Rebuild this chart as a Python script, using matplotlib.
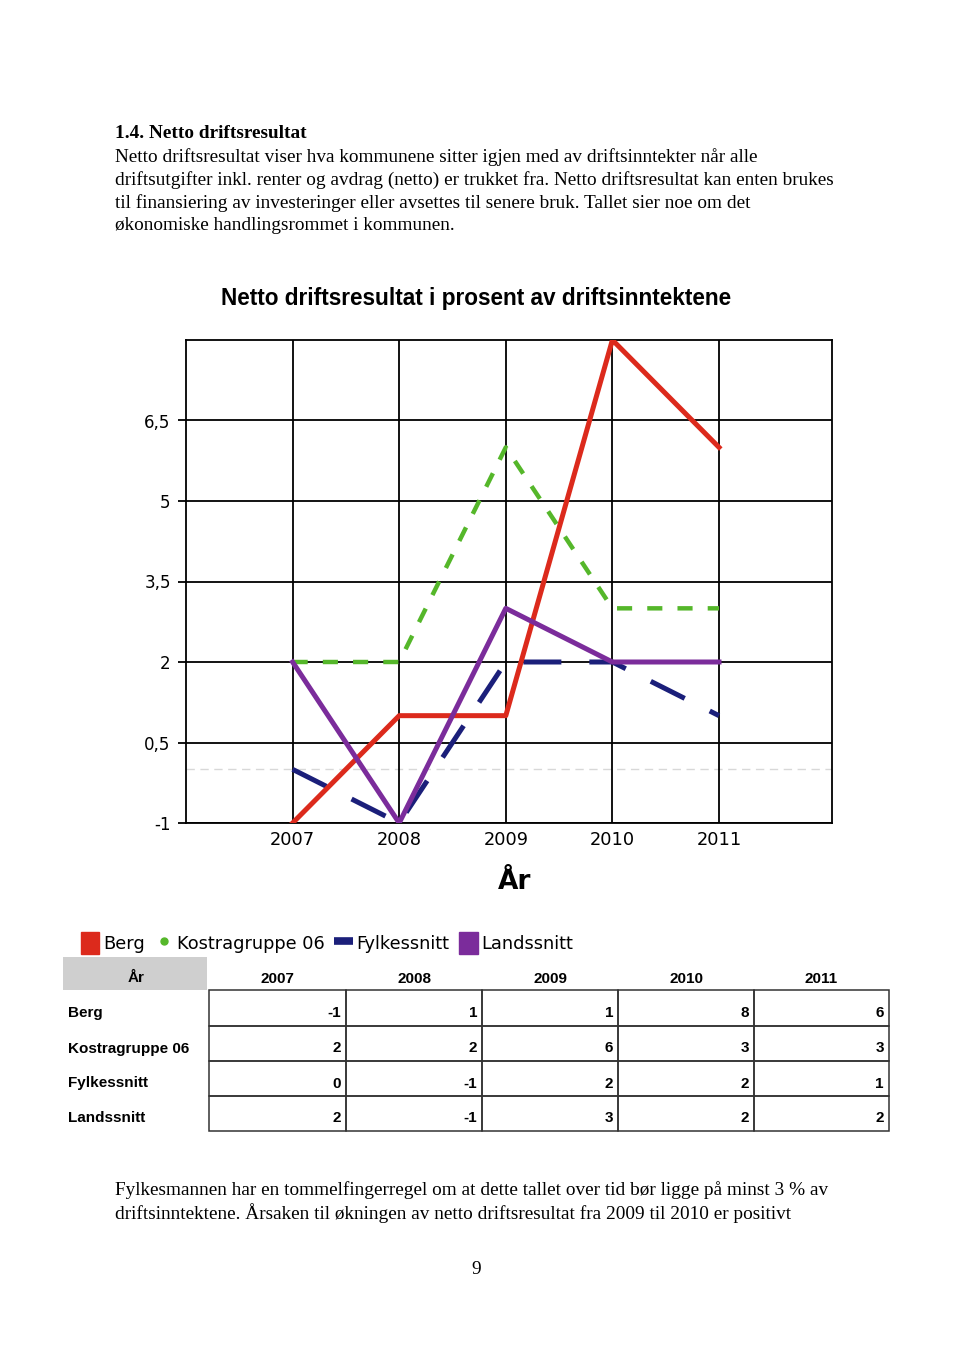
import matplotlib
matplotlib.use("Agg")
import matplotlib.pyplot as plt
from matplotlib.patches import Rectangle, Patch
from matplotlib.lines import Line2D

# ---- data ----
years = [2007, 2008, 2009, 2010, 2011]
berg = [-1, 1, 1, 8, 6]
kostra = [2, 2, 6, 3, 3]
fylke = [0, -1, 2, 2, 1]
lands = [2, -1, 3, 2, 2]
series_names = ["Berg", "Kostragruppe 06", "Fylkessnitt", "Landssnitt"]
yticks = [-1, 0.5, 2, 3.5, 5, 6.5]
ytick_labels = ["-1", "0,5", "2", "3,5", "5", "6,5"]

W, H = 960, 1357
fig = plt.figure(figsize=(W / 100, H / 100), dpi=100)
fig.patch.set_facecolor("white")

def fx(x):
    return x / W

def fy(y):
    return 1 - y / H

serif = "Liberation Serif"
sans = "Liberation Sans"
body = 13.85

# ---- page text ----
top_lines = [
    "Netto driftsresultat viser hva kommunene sitter igjen med av driftsinntekter når alle",
    "driftsutgifter inkl. renter og avdrag (netto) er trukket fra. Netto driftsresultat kan enten brukes",
    "til finansiering av investeringer eller avsettes til senere bruk. Tallet sier noe om det",
    "økonomiske handlingsrommet i kommunen.",
]
fig.text(fx(115), fy(134), "1.4. Netto driftsresultat", family=serif, weight="bold",
         fontsize=body, va="center", ha="left")
for i, t in enumerate(top_lines):
    fig.text(fx(115), fy(157 + i * 22.8), t, family=serif, fontsize=body, va="center", ha="left")

bottom_lines = [
    "Fylkesmannen har en tommelfingerregel om at dette tallet over tid bør ligge på minst 3 % av",
    "driftsinntektene. Årsaken til økningen av netto driftsresultat fra 2009 til 2010 er positivt",
]
for i, t in enumerate(bottom_lines):
    fig.text(fx(115), fy(1190 + i * 23), t, family=serif, fontsize=body, va="center", ha="left")
fig.text(fx(476), fy(1270), "9", family=serif, fontsize=body, va="center", ha="center")

# ---- chart ----
fig.text(fx(476), fy(299), "Netto driftsresultat i prosent av driftsinntektene",
         family=sans, weight="bold", fontsize=16.3, ha="center", va="center")

ax = fig.add_axes([fx(186), fy(823), fx(832) - fx(186), fy(340) - fy(823)])
ax.set_xlim(2006, 2012.06)
ax.set_ylim(-1, 8)
ax.set_xticks(years)
ax.set_xticklabels([str(y) for y in years], family="DejaVu Sans", fontsize=12.8)
ax.set_yticks(yticks)
ax.set_yticklabels(ytick_labels, family="DejaVu Sans", fontsize=12)
ax.tick_params(axis="x", length=0, pad=6)
ax.tick_params(axis="y", length=6, width=1.3, pad=5)
ax.grid(True, color="black", lw=1.3)
for s in ax.spines.values():
    s.set_linewidth(1.3)
ax.axhline(0, color="#d8d8d8", lw=1, ls=(0, (6, 4)), zorder=1)

ax.plot(years, kostra, color="#55b72a", lw=3.2, ls=(0, (3.4, 3.4)), zorder=3)
ax.plot(years, fylke, color="#1b1f7a", lw=3.6, ls=(0, (7.6, 5.6)), zorder=4)
ax.plot(years, berg, color="#dc2a1c", lw=3.6, zorder=5)
ax.plot(years, lands, color="#7b2c9b", lw=3.6, zorder=6)
ax.set_xlabel("År", family="DejaVu Sans", weight="bold", fontsize=19)
ax.xaxis.set_label_coords((515 - 186) / (832 - 186), -(869 - 823) / (823 - 340))

# ---- legend ----
handles = [
    Patch(color="#dc2a1c"),
    Line2D([], [], marker="o", ls="none", color="#55b72a", markersize=5),
    Line2D([], [], color="#1b1f7a", lw=5.5, solid_capstyle="butt"),
    Patch(color="#7b2c9b"),
]
fig.legend(handles, series_names, loc="center left", bbox_to_anchor=(fx(70), fy(943)),
           ncol=4, frameon=False, handlelength=1.05, handleheight=1.45, handletextpad=0.2,
           columnspacing=0.55, borderpad=0.1,
           prop={"family": "DejaVu Sans", "size": 12.8})

# ---- table ----
tax = fig.add_axes([0, 0, 1, 1])
tax.set_xlim(0, W)
tax.set_ylim(H, 0)
tax.axis("off")
tax.add_patch(Rectangle((63, 957), 144, 33, color="#cfcfcf", lw=0))
tax.text(136, 978, "År", family=sans, weight="bold", fontsize=11, ha="center", va="center")
col_edges = [209, 346, 482, 618, 754, 889]
row_edges = [990, 1026, 1061, 1096, 1131]
for j, y in enumerate(years):
    cx = (col_edges[j] + col_edges[j + 1]) / 2
    tax.text(cx, 979, str(y), family=sans, weight="bold", fontsize=11, ha="center", va="center")
rows = [berg, kostra, fylke, lands]
for i, (name, vals) in enumerate(zip(series_names, rows)):
    y0, y1 = row_edges[i], row_edges[i + 1]
    cy = (y0 + y1) / 2 + 5
    tax.text(68, cy, name, family=sans, weight="bold", fontsize=11, ha="left", va="center")
    for j, v in enumerate(vals):
        tax.add_patch(Rectangle((col_edges[j], y0), col_edges[j + 1] - col_edges[j], y1 - y0,
                                fill=False, ec="#333333", lw=1.1))
        tax.text(col_edges[j + 1] - 5, cy, str(v), family=sans, weight="bold", fontsize=11,
                 ha="right", va="center")

fig.savefig("out.png", dpi=100, facecolor="white")
